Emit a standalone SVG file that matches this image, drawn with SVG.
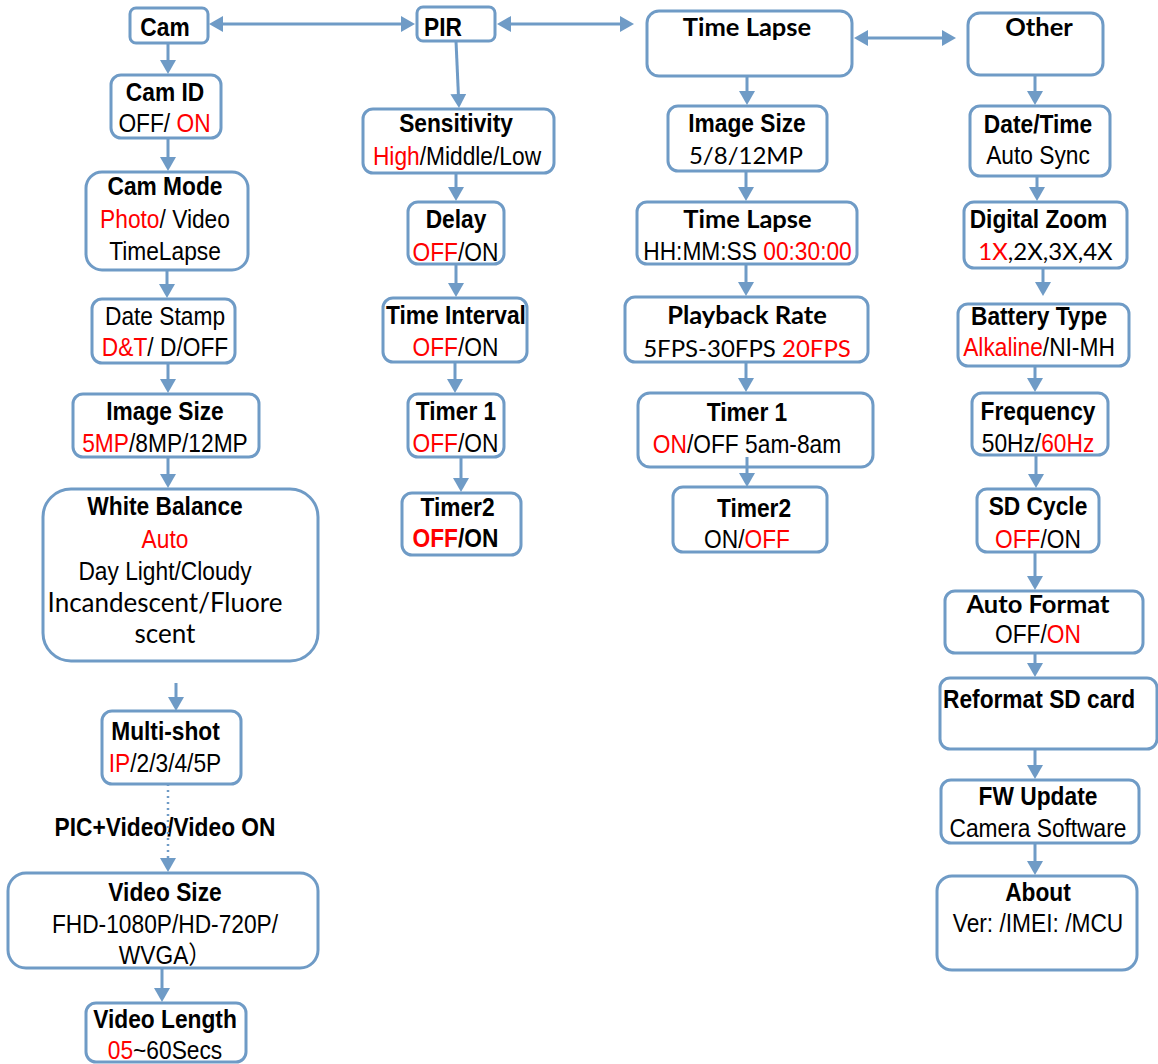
<svg xmlns="http://www.w3.org/2000/svg" width="1158" height="1064" viewBox="0 0 1158 1064">
<defs>
<style>
.box{fill:#fff;stroke:#6f9bc6;stroke-width:3}
.ln{fill:none;stroke:#6f9bc6;stroke-width:3;marker-end:url(#ah)}
.bi{marker-start:url(#ah)}
.dot{fill:none;stroke:#6f9bc6;stroke-width:2.5;stroke-dasharray:2 4;marker-end:url(#ah)}
text{fill:#000;text-anchor:middle}
.b,.r{font-family:"Liberation Sans",Arial,"Noto Sans CJK SC",sans-serif;font-size:25px;transform:scale(0.91,1)}
.b{font-weight:700}
.cb,.cr{font-family:Lato,"Open Sans",sans-serif;font-size:24px}
.cb{font-weight:700;font-size:25.5px}
.big{font-size:26px}
.s{text-anchor:start}
.red{fill:#ff0000}
</style>
<marker id="ah" viewBox="0 0 14 16" refX="4" refY="8" markerWidth="14" markerHeight="16" markerUnits="userSpaceOnUse" orient="auto-start-reverse">
<path d="M0,0 L14,8 L0,16 z" fill="#6f9bc6"/>
</marker>
</defs>
<rect width="1158" height="1064" fill="#fff"/>

<g id="cam"><rect class="box" x="130" y="8" width="78" height="35" rx="6"/><text class="b" x="181.32" y="36">Cam</text></g>
<g id="cam-id"><rect class="box" x="111" y="75" width="110" height="63" rx="10"/><text class="b" x="181.32" y="101">Cam ID</text><text class="r" x="180.77" y="132">OFF/ <tspan class="red">ON</tspan></text></g>
<g id="cam-mode"><rect class="box" x="86" y="172" width="162" height="98" rx="16"/><text class="b" x="181.32" y="195">Cam Mode</text><text class="r" x="181.32" y="228"><tspan class="red">Photo</tspan>/ Video</text><text class="r" x="181.32" y="260">TimeLapse</text></g>
<g id="date-stamp"><rect class="box" x="92" y="299" width="143" height="64" rx="10"/><text class="r" x="181.32" y="325">Date Stamp</text><text class="r" x="181.32" y="356"><tspan class="red">D&amp;T</tspan>/ D/OFF</text></g>
<g id="image-size"><rect class="box" x="73" y="394" width="186" height="63" rx="10"/><text class="b" x="181.32" y="420">Image Size</text><text class="r" x="181.32" y="452"><tspan class="red">5MP</tspan>/8MP/12MP</text></g>
<g id="white-balance"><rect class="box" x="43" y="489" width="275" height="172" rx="28"/><text class="b" x="181.32" y="515">White Balance</text><text class="r red" x="181.32" y="548">Auto</text><text class="r" x="181.32" y="580">Day Light/Cloudy</text><text class="cr big" x="165" y="612">Incandescent/Fluore</text><text class="cr big" x="165" y="643">scent</text></g>
<g id="multi-shot"><rect class="box" x="102" y="711" width="139" height="73" rx="10"/><text class="b" x="181.87" y="740">Multi-shot</text><text class="r" x="181.32" y="772"><tspan class="red">IP</tspan>/2/3/4/5P</text></g>
<g id="video-size"><rect class="box" x="8" y="873" width="310" height="95" rx="18"/><text class="b" x="181.32" y="901">Video Size</text><text class="r" x="181.32" y="933">FHD-1080P/HD-720P/</text><text class="r" x="181.32" y="964">WVGA）</text></g>
<g id="video-length"><rect class="box" x="86" y="1003" width="160" height="59" rx="10"/><text class="b" x="181.32" y="1028">Video Length</text><text class="r" x="181.32" y="1059"><tspan class="red">05</tspan>~60Secs</text></g>

<g id="pir"><rect class="box" x="417" y="7" width="78" height="34" rx="6"/><text class="b s" x="465.93" y="36">PIR</text></g>
<g id="sensitivity"><rect class="box" x="363" y="109" width="191" height="64" rx="10"/><text class="b" x="501.1" y="132">Sensitivity</text><text class="r" x="502.2" y="165"><tspan class="red">High</tspan>/Middle/Low</text></g>
<g id="delay"><rect class="box" x="408" y="202" width="96" height="62" rx="10"/><text class="b" x="501.1" y="228">Delay</text><text class="r" x="500.55" y="261"><tspan class="red">OFF</tspan>/ON</text></g>
<g id="time-interval"><rect class="box" x="383" y="298" width="144" height="64" rx="10"/><text class="b" x="501.1" y="324">Time Interval</text><text class="r" x="500.55" y="356"><tspan class="red">OFF</tspan>/ON</text></g>
<g id="pir-timer1"><rect class="box" x="408" y="394" width="96" height="63" rx="10"/><text class="b" x="501.1" y="420">Timer 1</text><text class="r" x="500.55" y="452"><tspan class="red">OFF</tspan>/ON</text></g>
<g id="pir-timer2"><rect class="box" x="402" y="493" width="119" height="62" rx="10"/><text class="b" x="502.75" y="516">Timer2</text><text class="b" x="500.55" y="547"><tspan class="red">OFF</tspan>/ON</text></g>

<g id="time-lapse"><rect class="box" x="647" y="11" width="205" height="65" rx="12"/><text class="cb" x="747" y="36">Time Lapse</text></g>
<g id="tl-image-size"><rect class="box" x="668" y="106" width="159" height="65" rx="10"/><text class="b" x="820.88" y="132">Image Size</text><text class="cr" x="746" y="164">5/8/12MP</text></g>
<g id="tl-time-lapse"><rect class="box" x="637" y="202" width="220" height="62" rx="10"/><text class="cb" x="747.5" y="228">Time Lapse</text><text class="r" x="821.43" y="260">HH:MM:SS <tspan class="red">00:30:00</tspan></text></g>
<g id="playback-rate"><rect class="box" x="625" y="297" width="243" height="65" rx="10"/><text class="cb" x="747" y="324">Playback Rate</text><text class="cr" x="747" y="357">5FPS-30FPS <tspan class="red">20FPS</tspan></text></g>
<g id="tl-timer1"><rect class="box" x="638" y="393" width="235" height="74" rx="12"/><text class="b" x="820.88" y="421">Timer 1</text><text class="r" x="820.88" y="453"><tspan class="red">ON</tspan>/OFF 5am-8am</text></g>
<g id="tl-timer2"><rect class="box" x="673" y="487" width="154" height="65" rx="10"/><text class="b" x="828.57" y="517">Timer2</text><text class="r" x="820.88" y="548">ON/<tspan class="red">OFF</tspan></text></g>

<g id="other"><rect class="box" x="968" y="13" width="135" height="62" rx="12"/><text class="cb" x="1039" y="36">Other</text></g>
<g id="date-time"><rect class="box" x="970" y="106" width="140" height="70" rx="10"/><text class="b" x="1140.66" y="133">Date/Time</text><text class="r" x="1140.66" y="164">Auto Sync</text></g>
<g id="digital-zoom"><rect class="box" x="964" y="202" width="163" height="66" rx="10"/><text class="b" x="1141.21" y="228">Digital Zoom</text><text class="cr" x="1045.5" y="260"><tspan class="red">1X</tspan>,2X,3X,4X</text></g>
<g id="battery-type"><rect class="box" x="958" y="304" width="171" height="62" rx="10"/><text class="b" x="1141.76" y="325">Battery Type</text><text class="r" x="1141.76" y="356"><tspan class="red">Alkaline</tspan>/NI-MH</text></g>
<g id="frequency"><rect class="box" x="972" y="393" width="136" height="62" rx="10"/><text class="b" x="1140.66" y="420">Frequency</text><text class="r" x="1140.66" y="452">50Hz/<tspan class="red">60Hz</tspan></text></g>
<g id="sd-cycle"><rect class="box" x="977" y="489" width="122" height="63" rx="10"/><text class="b" x="1140.66" y="515">SD Cycle</text><text class="r" x="1140.66" y="548"><tspan class="red">OFF</tspan>/ON</text></g>
<g id="auto-format"><rect class="box" x="945" y="591" width="198" height="62" rx="10"/><text class="cb" x="1038" y="613">Auto Format</text><text class="r" x="1140.66" y="643">OFF/<tspan class="red">ON</tspan></text></g>
<g id="reformat"><rect class="box" x="940" y="678" width="217" height="71" rx="10"/><text class="b s" x="1036.26" y="708">Reformat SD card</text></g>
<g id="fw-update"><rect class="box" x="941" y="780" width="198" height="63" rx="10"/><text class="b" x="1140.66" y="805">FW Update</text><text class="r" x="1140.66" y="837">Camera Software</text></g>
<g id="about"><rect class="box" x="937" y="876" width="200" height="94" rx="15"/><text class="b" x="1140.66" y="901">About</text><text class="r" x="1140.66" y="932">Ver: /IMEI: /MCU</text></g>

<text class="b" x="181.32" y="836">PIC+Video/Video ON</text>

<g id="connectors">
<line class="ln bi" x1="219" y1="24" x2="405" y2="24"/>
<line class="ln bi" x1="507" y1="24" x2="624" y2="24"/>
<line class="ln bi" x1="864" y1="38" x2="946" y2="38"/>
<line class="ln" x1="168" y1="43" x2="168" y2="64"/>
<line class="ln" x1="168" y1="138" x2="168" y2="161"/>
<line class="ln" x1="167" y1="270" x2="167" y2="288"/>
<line class="ln" x1="168" y1="363" x2="168" y2="383"/>
<line class="ln" x1="168" y1="457" x2="168" y2="478"/>
<line class="ln" x1="176" y1="683" x2="176" y2="701"/>
<line class="dot" x1="168" y1="784" x2="168" y2="862"/>
<line class="ln" x1="162" y1="968" x2="162" y2="992"/>
<line class="ln" x1="456" y1="41" x2="458.55" y2="98"/>
<line class="ln" x1="456" y1="173" x2="456" y2="191"/>
<line class="ln" x1="456" y1="264" x2="456" y2="287"/>
<line class="ln" x1="455" y1="362" x2="455" y2="383"/>
<line class="ln" x1="461" y1="457" x2="461" y2="482"/>
<line class="ln" x1="747" y1="76" x2="747" y2="95"/>
<line class="ln" x1="746" y1="171" x2="746" y2="191"/>
<line class="ln" x1="746" y1="264" x2="746" y2="286"/>
<line class="ln" x1="746" y1="362" x2="746" y2="382"/>
<line class="ln" x1="747" y1="457" x2="747" y2="477"/>
<line class="ln" x1="1035" y1="75" x2="1035" y2="95"/>
<line class="ln" x1="1037" y1="176" x2="1037" y2="191"/>
<line class="ln" x1="1043" y1="268" x2="1043" y2="286"/>
<line class="ln" x1="1035" y1="366" x2="1035" y2="382"/>
<line class="ln" x1="1036" y1="455" x2="1036" y2="478"/>
<line class="ln" x1="1035" y1="552" x2="1035" y2="580"/>
<line class="ln" x1="1035" y1="653" x2="1035" y2="667"/>
<line class="ln" x1="1035" y1="749" x2="1035" y2="769"/>
<line class="ln" x1="1035" y1="843" x2="1035" y2="865"/>
</g>
</svg>
